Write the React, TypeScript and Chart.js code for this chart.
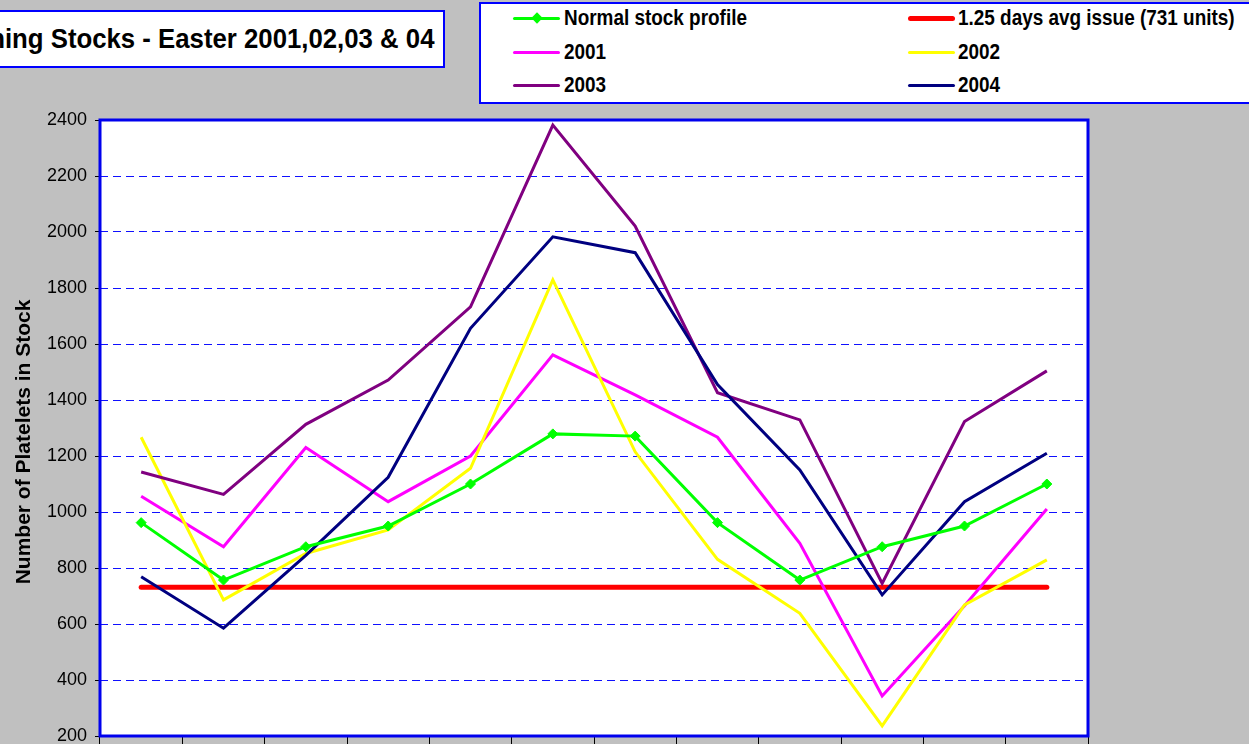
import React, { useEffect, useRef } from 'react';
import { Chart, registerables } from 'chart.js';

Chart.register(...registerables);

const categories = ['1', '2', '3', '4', '5', '6', '7', '8', '9', '10', '11', '12'];
const normalProfile = [962, 757, 876, 950, 1100, 1279, 1271, 962, 757, 876, 950, 1100];
const avgIssue = [731, 731, 731, 731, 731, 731, 731, 731, 731, 731, 731, 731];
const y2001 = [1056, 876, 1230, 1037, 1200, 1561, 1418, 1267, 888, 343, 665, 1011];
const y2002 = [1267, 686, 852, 936, 1156, 1829, 1215, 831, 638, 236, 668, 829];
const y2003 = [1143, 1063, 1313, 1471, 1733, 2382, 2021, 1426, 1329, 745, 1323, 1504];
const y2004 = [769, 585, 845, 1124, 1656, 1983, 1926, 1455, 1150, 704, 1037, 1210];
const yMin = 200;
const yMax = 2400;
const yStep = 200;

const titleText = 'Opening Stocks - Easter 2001,02,03 & 04';
const yAxisTitle = 'Number of Platelets in Stock';

const legendItems = [
  { label: 'Normal stock profile', color: '#00ff00', width: 3, diamond: true },
  { label: '1.25 days avg issue (731 units)', color: '#ff0000', width: 5, diamond: false },
  { label: '2001', color: '#ff00ff', width: 3, diamond: false },
  { label: '2002', color: '#ffff00', width: 3, diamond: false },
  { label: '2003', color: '#800080', width: 3, diamond: false },
  { label: '2004', color: '#000080', width: 3, diamond: false },
];

const FONT = "'Liberation Sans', Arial, Helvetica, sans-serif";

const framePlugin = {
  id: 'frame',
  beforeDraw(chart: any) {
    const { ctx, chartArea } = chart;
    ctx.save();
    ctx.fillStyle = '#ffffff';
    ctx.fillRect(chartArea.left, chartArea.top, chartArea.right - chartArea.left, chartArea.bottom - chartArea.top);
    ctx.restore();
  },
  afterDraw(chart: any) {
    const { ctx, chartArea } = chart;
    ctx.save();
    ctx.strokeStyle = '#0000ee';
    ctx.lineWidth = 3;
    ctx.strokeRect(chartArea.left, chartArea.top, chartArea.right - chartArea.left, chartArea.bottom - chartArea.top);
    // y axis title
    ctx.translate(24, 442);
    ctx.rotate(-Math.PI / 2);
    ctx.fillStyle = '#000000';
    ctx.font = `bold 21px ${FONT}`;
    ctx.textAlign = 'center';
    ctx.textBaseline = 'middle';
    ctx.fillText(yAxisTitle, 0, 0);
    ctx.restore();
  },
};

export default function App() {
  const canvasRef = useRef<HTMLCanvasElement | null>(null);

  useEffect(() => {
    if (!canvasRef.current) return;
    const chart = new Chart(canvasRef.current, {
      type: 'line',
      data: {
        labels: categories,
        datasets: [
          {
            label: 'Normal stock profile',
            data: normalProfile,
            borderColor: '#00ff00',
            backgroundColor: '#00ff00',
            borderWidth: 3,
            pointStyle: 'rectRot',
            pointRadius: 5,
            pointBorderWidth: 1,
            order: 0,
          },
          {
            label: '1.25 days avg issue (731 units)',
            data: avgIssue,
            borderColor: '#ff0000',
            backgroundColor: '#ff0000',
            borderWidth: 5,
            borderCapStyle: 'round',
            pointRadius: 0,
            order: 6,
          },
          {
            label: '2001',
            data: y2001,
            borderColor: '#ff00ff',
            backgroundColor: '#ff00ff',
            borderWidth: 3,
            pointRadius: 0,
            order: 5,
          },
          {
            label: '2002',
            data: y2002,
            borderColor: '#ffff00',
            backgroundColor: '#ffff00',
            borderWidth: 3,
            pointRadius: 0,
            order: 4,
          },
          {
            label: '2003',
            data: y2003,
            borderColor: '#800080',
            backgroundColor: '#800080',
            borderWidth: 3,
            pointRadius: 0,
            order: 3,
          },
          {
            label: '2004',
            data: y2004,
            borderColor: '#000080',
            backgroundColor: '#000080',
            borderWidth: 3,
            pointRadius: 0,
            order: 2,
          },
        ],
      },
      options: {
        animation: false,
        responsive: false,
        maintainAspectRatio: false,
        layout: { padding: { left: 0, top: 120, right: 161, bottom: 0 } },
        elements: { line: { tension: 0 } },
        plugins: {
          legend: { display: false },
          title: { display: false },
          tooltip: { enabled: false },
        },
        scales: {
          x: {
            offset: true,
            grid: {
              offset: true,
              drawOnChartArea: false,
              drawTicks: true,
              tickLength: 8,
              tickColor: '#000000',
              tickWidth: 1,
            },
            border: { display: false },
            ticks: { display: false },
            afterFit(scale: any) {
              scale.height = 8;
              scale.paddingLeft = 0;
              scale.paddingRight = 0;
            },
          },
          y: {
            min: yMin,
            max: yMax,
            ticks: {
              stepSize: yStep,
              color: '#000000',
              padding: 8,
              font: { family: FONT, size: 18 },
              callback: (v: any) => String(v),
            },
            grid: {
              color: '#1010ff',
              lineWidth: 1,
              tickColor: '#000000',
              tickLength: 5,
              tickBorderDash: [],
            },
            border: { display: false, dash: [8, 5] },
            title: { display: false },
            afterFit(scale: any) {
              scale.width = 100;
              scale.paddingTop = 0;
              scale.paddingBottom = 0;
            },
          },
        },
      },
      plugins: [framePlugin],
    } as any);
    return () => chart.destroy();
  }, []);

  const rowYs = [18, 52, 85];
  const colLine = [513, 908];
  const colText = [564, 958];

  return (
    <div
      style={{
        position: 'fixed',
        left: 0,
        top: 0,
        width: 1249,
        height: 744,
        overflow: 'hidden',
        background: '#c0c0c0',
        fontFamily: FONT,
      }}
    >
      <canvas
        ref={canvasRef}
        width={1249}
        height={744}
        style={{ position: 'absolute', left: 0, top: 0, width: 1249, height: 744 }}
      />
      <div
        style={{
          position: 'absolute',
          left: -220,
          top: 10,
          width: 665,
          height: 58,
          boxSizing: 'border-box',
          border: '2px solid #0000ff',
          background: '#ffffff',
          display: 'flex',
          alignItems: 'center',
          justifyContent: 'flex-end',
          paddingRight: 9,
        }}
      >
        <span
          style={{
            display: 'inline-block',
            fontSize: 28,
            fontWeight: 'bold',
            lineHeight: '28px',
            whiteSpace: 'nowrap',
            color: '#000',
            transform: 'scaleX(0.92)',
            transformOrigin: 'right center',
          }}
        >
          {titleText}
        </span>
      </div>
      <div
        style={{
          position: 'absolute',
          left: 479,
          top: 2,
          width: 800,
          height: 102,
          boxSizing: 'border-box',
          border: '2px solid #0000ff',
          background: '#ffffff',
        }}
      />
      {legendItems.map((item, i) => {
        const row = Math.floor(i / 2);
        const col = i % 2;
        const y = rowYs[row];
        return (
          <React.Fragment key={item.label}>
            <div
              style={{
                position: 'absolute',
                left: colLine[col],
                top: y - item.width / 2,
                width: 47,
                height: item.width,
                background: item.color,
                borderRadius: item.width / 2,
              }}
            />
            {item.diamond && (
              <div
                style={{
                  position: 'absolute',
                  left: colLine[col] + 23.5 - 4,
                  top: y - 4,
                  width: 8,
                  height: 8,
                  background: item.color,
                  transform: 'rotate(45deg)',
                }}
              />
            )}
            <span
              style={{
                position: 'absolute',
                left: colText[col],
                top: y - 11,
                fontSize: 22,
                lineHeight: '22px',
                fontWeight: 'bold',
                whiteSpace: 'nowrap',
                color: '#000',
                transform: 'scaleX(0.86)',
                transformOrigin: 'left center',
              }}
            >
              {item.label}
            </span>
          </React.Fragment>
        );
      })}
    </div>
  );
}
